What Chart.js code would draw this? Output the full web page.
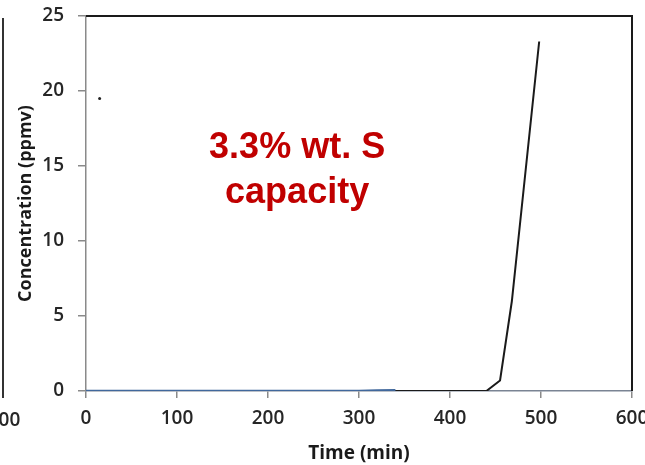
<!DOCTYPE html>
<html>
<head>
<meta charset="utf-8">
<script src="https://cdn.jsdelivr.net/npm/chart.js@4"></script>
<style>
  html, body { margin: 0; padding: 0; background: #fff; overflow: hidden; }
  #wrap { width: 645px; height: 465px; }
</style>
</head>
<body>
<div id="wrap"><canvas id="breakthroughChart" width="645" height="465"></canvas></div>
<script>
// Breakthrough curve data
const timeBlack = [0, 440, 455, 468, 498];
const concBlack = [0, 0, 0.7, 6, 23.3];
const timeBlue = [0, 300, 320, 340];
const concBlue = [0, 0, 0.03, 0.05];
const strayTime = [15];
const strayConc = [19.5];
const xTicks = [0, 100, 200, 300, 400, 500, 600];
const yTicks = [0, 5, 10, 15, 20, 25];
const noteLines = ["3.3% wt. S", "capacity"];

const toPoints = (xs, ys) => xs.map((x, i) => ({ x: x, y: ys[i] }));

const tickColor = "#262626";
const axisGray = "#8a8a8a";

// top/right frame, annotation text, and remnant of the neighbouring panel
const extras = {
    id: "extras",
    afterDraw(chart) {
        const ctx = chart.ctx;
        const a = chart.chartArea;
        const xs = chart.scales.x;
        const ys = chart.scales.y;
        ctx.save();
        ctx.strokeStyle = "#1a1a1a";
        ctx.lineWidth = 2;
        ctx.beginPath();
        ctx.moveTo(a.left, a.top);
        ctx.lineTo(a.right, a.top);
        ctx.lineTo(a.right, a.bottom);
        ctx.stroke();

        // neighbouring panel edge
        ctx.strokeStyle = "#333";
        ctx.lineWidth = 2;
        ctx.beginPath();
        ctx.moveTo(3, a.top + 2);
        ctx.lineTo(3, a.bottom + 7);
        ctx.stroke();
        ctx.fillStyle = tickColor;
        ctx.font = "600 19px 'Open Sans'";
        ctx.textAlign = "center";
        ctx.textBaseline = "middle";
        ctx.fillText("600", 4, 421);

        // annotation
        ctx.fillStyle = "#c00000";
        ctx.font = "bold 36px 'Liberation Sans'";
        ctx.fillText(noteLines[0], xs.getPixelForValue(232), ys.getPixelForValue(16.2));
        ctx.fillText(noteLines[1], xs.getPixelForValue(232), ys.getPixelForValue(13.2));
        ctx.restore();
    },
};

const ctx = document.getElementById("breakthroughChart").getContext("2d");
new Chart(ctx, {
    type: "scatter",
    data: {
        datasets: [
            {
                label: "Outlet",
                data: toPoints(timeBlack, concBlack),
                showLine: true,
                borderColor: "#1a1a1a",
                borderWidth: 2,
                pointRadius: 0,
                tension: 0,
                order: 2,
            },
            {
                label: "Outlet (blue)",
                data: toPoints(timeBlue, concBlue),
                showLine: true,
                borderColor: "#41689c",
                borderWidth: 2.5,
                pointRadius: 0,
                tension: 0,
                order: 1,
            },
            {
                label: "Stray",
                data: toPoints(strayTime, strayConc),
                showLine: false,
                backgroundColor: "#222",
                borderWidth: 0,
                pointRadius: 1.5,
                order: 0,
            },
        ],
    },
    options: {
        responsive: false,
        animation: false,
        layout: {
            padding: { top: 16, right: 13, left: 0, bottom: 0 },
        },
        plugins: {
            legend: { display: false },
            tooltip: { enabled: false },
        },
        scales: {
            x: {
                type: "linear",
                min: 0,
                max: 600,
                afterBuildTicks: (scale) => {
                    scale.ticks = xTicks.map((v) => ({ value: v }));
                },
                afterFit: (scale) => {
                    scale.height = 74;
                    scale.paddingLeft = 0;
                    scale.paddingRight = 0;
                },
                grid: {
                    drawOnChartArea: false,
                    color: axisGray,
                    tickLength: 7,
                    lineWidth: 1.5,
                },
                border: { color: "#7a8494", width: 1.5 },
                ticks: {
                    color: tickColor,
                    padding: 9,
                    maxRotation: 0,
                    font: { family: "'Open Sans'", size: 19, weight: "600" },
                },
                title: {
                    display: true,
                    text: "Time (min)",
                    color: "#1a1a1a",
                    padding: { top: 0, bottom: 0 },
                    font: { family: "'Open Sans'", size: 19, weight: "bold" },
                },
            },
            y: {
                type: "linear",
                min: 0,
                max: 25,
                afterBuildTicks: (scale) => {
                    scale.ticks = yTicks.map((v) => ({ value: v }));
                },
                afterFit: (scale) => {
                    scale.width = 86;
                    scale.paddingTop = 0;
                    scale.paddingBottom = 0;
                },
                grid: {
                    drawOnChartArea: false,
                    color: axisGray,
                    tickLength: 8,
                    lineWidth: 1.5,
                },
                border: { color: axisGray, width: 1.5 },
                ticks: {
                    color: tickColor,
                    padding: 14,
                    font: { family: "'Open Sans'", size: 19, weight: "600" },
                },
                title: {
                    display: true,
                    text: "Concentration (ppmv)",
                    color: "#1a1a1a",
                    padding: { top: 15, bottom: 0 },
                    font: { family: "'Open Sans'", size: 18, weight: "bold" },
                },
            },
        },
    },
    plugins: [extras],
});
</script>
</body>
</html>
